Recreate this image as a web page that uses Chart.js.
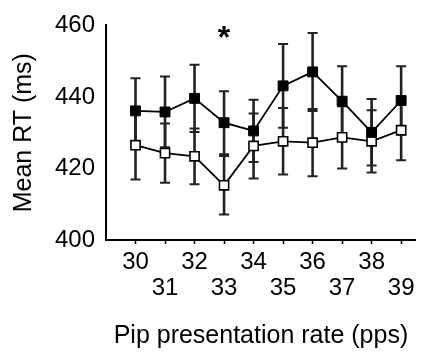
<!DOCTYPE html>
<html>
<head>
<meta charset="utf-8">
<script src="https://cdn.jsdelivr.net/npm/chart.js@4"></script>
<style>
  html, body { margin: 0; padding: 0; background: #fff; }
  #wrap { width: 424px; height: 352px; }
</style>
</head>
<body>
<div id="wrap"><canvas id="grafica"></canvas></div>
<script>
// datos
const tasas = [30, 31, 32, 33, 34, 35, 36, 37, 38, 39];
const mediaLlena = [436.1, 435.8, 439.6, 432.8, 430.5, 443.1, 447.0, 438.8, 430.1, 439.0];
const errorLlena = [9.1, 9.9, 9.4, 8.8, 8.7, 11.7, 10.9, 9.8, 9.3, 9.6];
const mediaVacia = [426.5, 424.3, 423.4, 415.3, 426.3, 427.6, 427.2, 428.7, 427.6, 430.7];
const errorVacia = [9.6, 8.3, 7.8, 8.2, 9.1, 9.3, 9.4, 8.7, 8.7, 8.4];
const tasasSignificativas = [33];
const nivelAsterisco = 455;

const fuente = 'Liberation Sans, Arial, Helvetica, sans-serif';

// barras de error dibujadas antes de los puntos
const barrasError = {
    id: 'barrasError',
    beforeDatasetsDraw(chart) {
        const { ctx, scales: { x, y } } = chart;
        ctx.save();
        ctx.strokeStyle = '#222';
        chart.data.datasets.forEach(ds => {
            ds.data.forEach((p, i) => {
                const px = x.getPixelForValue(p.x);
                const top = y.getPixelForValue(p.y + ds.errores[i]);
                const bot = y.getPixelForValue(p.y - ds.errores[i]);
                ctx.lineWidth = 2.6;
                ctx.beginPath();
                ctx.moveTo(px, top); ctx.lineTo(px, bot);
                ctx.stroke();
                ctx.lineWidth = 2;
                ctx.beginPath();
                ctx.moveTo(px - 5, top); ctx.lineTo(px + 5, top);
                ctx.moveTo(px - 5, bot); ctx.lineTo(px + 5, bot);
                ctx.stroke();
            });
        });
        ctx.restore();
    },
    afterDatasetsDraw(chart) {
        const { ctx, scales: { x, y } } = chart;
        ctx.save();
        ctx.fillStyle = '#000';
        ctx.font = 'bold 32px ' + fuente;
        ctx.textAlign = 'center';
        ctx.textBaseline = 'middle';
        tasasSignificativas.forEach(t => {
            ctx.fillText('*', x.getPixelForValue(t), y.getPixelForValue(nivelAsterisco) - 4);
        });
        ctx.restore();
    }
};

const ctx = document.getElementById('grafica');

new Chart(ctx, {
    type: 'line',
    data: {
        datasets: [
            {
                label: 'lleno',
                data: tasas.map((t, i) => ({ x: t, y: mediaLlena[i] })),
                errores: errorLlena,
                borderColor: '#000',
                borderWidth: 1.8,
                backgroundColor: '#000',
                pointStyle: 'rect',
                pointRadius: 7,
                pointBorderWidth: 1,
                pointBorderColor: '#000',
                pointBackgroundColor: '#000',
                tension: 0
            },
            {
                label: 'vacio',
                data: tasas.map((t, i) => ({ x: t, y: mediaVacia[i] })),
                errores: errorVacia,
                borderColor: '#000',
                borderWidth: 1.8,
                backgroundColor: '#fff',
                pointStyle: 'rect',
                pointRadius: 6.5,
                pointBorderWidth: 1.6,
                pointBorderColor: '#000',
                pointBackgroundColor: '#fff',
                tension: 0
            }
        ]
    },
    options: {
        responsive: true,
        maintainAspectRatio: false,
        animation: false,
        layout: { padding: { top: 16, right: 0, left: 0, bottom: 0 } },
        plugins: {
            legend: { display: false },
            tooltip: { enabled: false }
        },
        scales: {
            x: {
                type: 'linear',
                min: 29,
                max: 39.5,
                afterBuildTicks: s => { s.ticks = tasas.map(v => ({ value: v })); },
                afterFit: s => { s.height = 112; },
                border: { color: '#000', width: 2 },
                grid: { drawOnChartArea: false, tickLength: 4, color: '#000', tickWidth: 1.5 },
                ticks: {
                    color: '#000',
                    padding: 6,
                    maxRotation: 0,
                    autoSkip: false,
                    font: { family: fuente, size: 24, lineHeight: 1.06 },
                    callback: v => (v % 2 === 0 ? [String(v), ''] : ['', String(v)])
                },
                title: {
                    display: true,
                    text: 'Pip presentation rate (pps)',
                    color: '#000',
                    font: { family: fuente, size: 25 },
                    padding: { top: 0, bottom: 1 }
                }
            },
            y: {
                min: 400,
                max: 460,
                afterFit: s => { s.width = 106; },
                border: { color: '#000', width: 2 },
                grid: { display: true, drawOnChartArea: false, drawTicks: false },
                ticks: {
                    stepSize: 20,
                    color: '#000',
                    padding: 11,
                    font: { family: fuente, size: 24 }
                },
                title: {
                    display: true,
                    text: 'Mean RT (ms)',
                    color: '#000',
                    font: { family: fuente, size: 25 },
                    padding: { top: 9, bottom: 0 }
                }
            }
        }
    },
    plugins: [barrasError]
});
</script>
</body>
</html>
